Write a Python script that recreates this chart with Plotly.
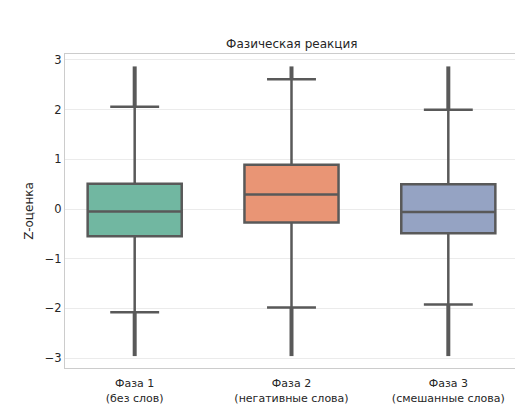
import plotly.graph_objects as go

categories = ["Фаза 1<br>(без слов)", "Фаза 2<br>(негативные слова)", "Фаза 3<br>(смешанные слова)"]
q1 = [-0.55, -0.27, -0.49]
median = [-0.05, 0.29, -0.06]
q3 = [0.51, 0.89, 0.50]
lower_whisker = [-2.08, -1.98, -1.92]
upper_whisker = [2.06, 2.61, 2.00]
outlier_min = [-2.96, -2.96, -2.96]
outlier_max = [2.87, 2.87, 2.87]
colors = ["#71b7a1", "#e99575", "#95a3c3"]
yticks = [-3, -2, -1, 0, 1, 2, 3]
ytick_labels = ["−3", "−2", "−1", "0", "1", "2", "3"]

line_color = "#595959"
fig = go.Figure()
for i, cat in enumerate(categories):
    # outlier columns (dense outliers drawn as thick segments)
    fig.add_trace(go.Scatter(
        x=[cat, cat], y=[upper_whisker[i], outlier_max[i]], mode="lines",
        line=dict(color=line_color, width=4), showlegend=False, hoverinfo="skip"))
    fig.add_trace(go.Scatter(
        x=[cat, cat], y=[lower_whisker[i], outlier_min[i]], mode="lines",
        line=dict(color=line_color, width=4), showlegend=False, hoverinfo="skip"))
    fig.add_trace(go.Box(
        x=[cat], q1=[q1[i]], median=[median[i]], q3=[q3[i]],
        lowerfence=[lower_whisker[i]], upperfence=[upper_whisker[i]],
        fillcolor=colors[i], line=dict(color=line_color, width=2.5),
        width=0.6, whiskerwidth=0.52, showlegend=False, boxpoints=False))

fig.update_layout(
    width=515, height=401,
    margin=dict(l=57, r=4, t=46, b=34),
    paper_bgcolor="white", plot_bgcolor="white",
    boxmode="overlay", boxgap=0.4, boxgroupgap=0,
    font=dict(family="DejaVu Sans", size=11, color="#262626"),
    title=dict(text="Фазическая реакция", x=0.551, xanchor="center", y=0.91, yanchor="middle",
               font=dict(size=12, color="#262626")),
    xaxis=dict(categoryorder="array", categoryarray=categories, showgrid=False,
               showline=True, linecolor="#cccccc", linewidth=1, mirror=True,
               ticks="", tickfont=dict(size=11), zeroline=False, ticklabelstandoff=5),
    yaxis=dict(range=[-3.2, 3.12], tickvals=yticks, ticktext=ytick_labels,
               showgrid=True, gridcolor="#ebebeb", gridwidth=1, zeroline=False,
               showline=True, linecolor="#cccccc", linewidth=1, mirror=True,
               ticks="", tickfont=dict(size=11.5),
               title=dict(text="Z-оценка", font=dict(size=12), standoff=8)),
)
fig.write_html("out.html")
